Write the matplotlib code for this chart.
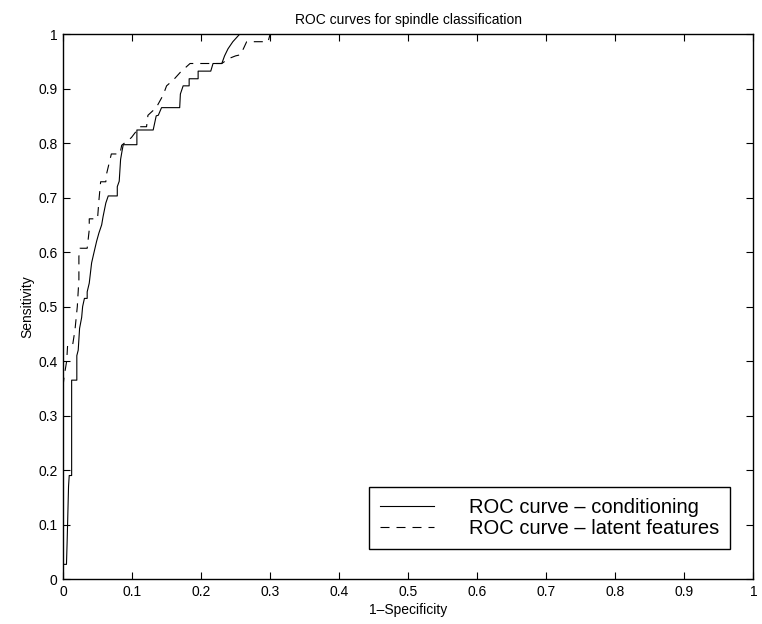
import matplotlib
matplotlib.use("Agg")
import matplotlib.pyplot as plt
import numpy as np

plt.rcParams['font.family'] = ['Liberation Sans', 'DejaVu Sans']

# ROC curve - conditioning (solid)
cond_fpr = [0, 0, 0.005, 0.006, 0.008, 0.009, 0.0125, 0.0125, 0.02, 0.02,
            0.022, 0.024, 0.027, 0.0284, 0.031, 0.035, 0.035, 0.038, 0.0414,
            0.0439, 0.0487, 0.052, 0.056, 0.058, 0.062, 0.0655, 0.0786, 0.0786,
            0.0814, 0.0834, 0.0853, 0.0872, 0.107, 0.107, 0.1306, 0.135, 0.138,
            0.1427, 0.169, 0.170, 0.174, 0.1827, 0.1827, 0.1957, 0.1957, 0.214,
            0.2173, 0.23, 0.234, 0.239, 0.246, 0.251, 0.256, 1.0]
cond_tpr = [0, 0.027, 0.027, 0.07, 0.17, 0.19, 0.19, 0.365, 0.365, 0.41,
            0.42, 0.46, 0.48, 0.50, 0.515, 0.515, 0.527, 0.543, 0.58,
            0.594, 0.62, 0.635, 0.65, 0.665, 0.69, 0.703, 0.703, 0.72,
            0.73, 0.77, 0.784, 0.797, 0.797, 0.824, 0.824, 0.85, 0.851,
            0.865, 0.865, 0.89, 0.905, 0.905, 0.918, 0.918, 0.932, 0.932,
            0.946, 0.946, 0.96, 0.973, 0.986, 0.993, 1.0, 1.0]

# ROC curve - latent features (dashed)
lat_fpr = [0, 0.0014, 0.0053, 0.0067, 0.014, 0.0173, 0.0207, 0.023, 0.023,
           0.0246, 0.035, 0.038, 0.038, 0.050, 0.052, 0.0545, 0.062, 0.063,
           0.070, 0.0824, 0.085, 0.099, 0.111, 0.121, 0.123, 0.135, 0.145,
           0.150, 0.16, 0.17, 0.184, 0.23, 0.24, 0.25, 0.257, 0.262, 0.266,
           0.297, 0.30, 1.0]
lat_tpr = [0.353, 0.37, 0.40, 0.43, 0.43, 0.457, 0.50, 0.55, 0.592,
           0.607, 0.607, 0.641, 0.661, 0.661, 0.695, 0.729, 0.729, 0.743,
           0.78, 0.78, 0.796, 0.81, 0.83, 0.83, 0.851, 0.865, 0.888,
           0.905, 0.916, 0.93, 0.946, 0.946, 0.955, 0.96, 0.962, 0.975, 0.986,
           0.986, 1.0, 1.0]

ticks = np.arange(0, 1.01, 0.1)
tick_labels = ["0", "0.1", "0.2", "0.3", "0.4", "0.5", "0.6", "0.7", "0.8", "0.9", "1"]

fig = plt.figure(figsize=(7.62, 6.24), dpi=100)
ax = fig.add_axes([0.0827, 0.072, 0.906, 0.8734])

ax.plot(cond_fpr, cond_tpr, color="black", lw=0.8, label="ROC curve \u2013 conditioning")
ax.plot(lat_fpr, lat_tpr, color="black", lw=0.8, dashes=(8.1, 6.3),
        label="ROC curve \u2013 latent features")

ax.set_xlim(0, 1)
ax.set_ylim(0, 1)
ax.set_xticks(ticks)
ax.set_xticklabels(tick_labels)
ax.set_yticks(ticks)
ax.set_yticklabels(tick_labels)
ax.tick_params(direction="in", length=5, width=0.8, top=True, right=True,
               labelsize=10, pad=4)
for s in ax.spines.values():
    s.set_linewidth(1.0)

ax.set_title("ROC curves for spindle classification", fontsize=10, pad=7)
ax.set_xlabel("1\u2013Specificity", fontsize=10, labelpad=3)
ax.set_ylabel("Sensitivity", fontsize=10, labelpad=3)

leg = ax.legend(loc="lower left", bbox_to_anchor=(0.4435, 0.055), borderaxespad=0,
                fontsize=14.5, handlelength=2.65, handletextpad=1.75, borderpad=0.55,
                labelspacing=0.1, fancybox=False, framealpha=1, edgecolor="black")
leg.get_frame().set_linewidth(1.0)

fig.savefig("out.png", dpi=100)
